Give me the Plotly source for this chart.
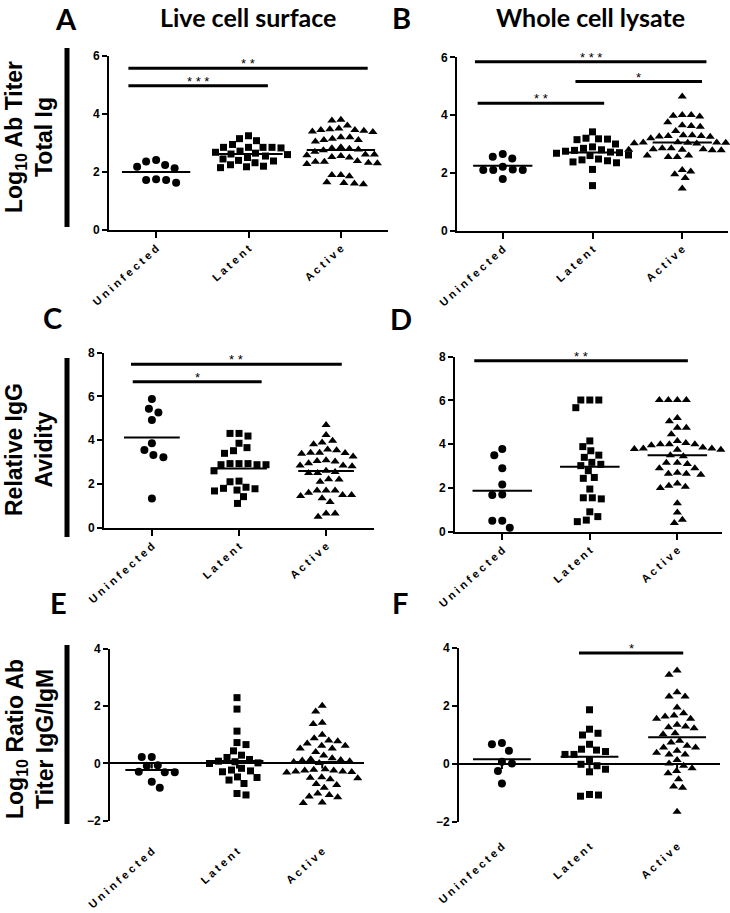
import plotly.graph_objects as go

W, H = 730, 913

categories = ["Uninfected", "Latent", "Active"]
tick_text = [" ".join(c) for c in categories]

# ---------- Panel A: live cell surface, Log10 Ab titer total Ig ----------
A_uninfected = [2.36, 2.18, 2.13, 2.24, 2.41, 1.72, 1.63, 1.72, 1.75]
A_latent = [3.25, 3.15, 3.08, 2.95, 2.85, 2.85, 2.83, 2.85, 2.85, 2.72, 2.68, 2.65,
            2.62, 2.60, 2.55, 2.50, 2.45, 2.40, 2.38, 2.32, 2.25, 2.20, 2.18, 2.15]
A_active = [3.80, 3.78, 3.60, 3.50, 3.47, 3.45, 3.45, 3.42, 3.40, 3.38, 3.20, 3.15,
            3.10, 3.05, 3.10, 3.20, 2.85, 2.80, 2.78, 2.75, 2.70, 2.82, 2.60, 2.55,
            2.58, 2.50, 2.52, 2.60, 2.30, 2.35, 2.32, 2.35, 2.38, 2.28, 1.85, 1.90,
            1.90, 1.62, 1.58, 1.60, 1.65]
A_means = [2.00, 2.62, 2.76]

# ---------- Panel B: whole cell lysate, Log10 Ab titer total Ig ----------
B_uninfected = [2.50, 2.65, 2.56, 2.12, 2.10, 2.21, 2.10, 2.10, 1.79]
B_latent = [3.42, 3.20, 3.18, 3.15, 3.17, 3.00, 2.90, 2.85, 2.80, 2.78, 2.75, 2.72,
            2.70, 2.68, 2.62, 2.60, 2.42, 2.38, 2.35, 2.45, 2.48, 2.12, 1.56]
B_active = [4.64, 4.00, 3.95, 3.75, 3.98, 4.00, 3.65, 3.60, 3.62, 3.45, 3.30, 3.25,
            3.28, 3.26, 3.28, 3.30, 3.20, 3.05, 3.04, 3.02, 3.05, 3.04, 3.06, 3.03,
            2.85, 2.82, 2.80, 2.78, 2.85, 2.80, 2.78, 2.80, 2.82, 2.60, 2.55, 2.55,
            2.60, 2.10, 1.95, 1.82, 2.05, 1.46]
B_means = [2.25, 2.71, 3.05]

# ---------- Panel C: live cell surface, relative IgG avidity ----------
C_uninfected = [5.88, 5.44, 5.27, 4.92, 3.86, 3.32, 3.22, 3.55, 1.34]
C_latent = [4.31, 4.19, 4.31, 3.86, 3.52, 3.40, 3.66, 2.93, 2.88, 2.88, 2.60, 2.88,
            2.93, 2.93, 2.10, 1.80, 1.72, 1.68, 1.78, 1.85, 2.13, 1.42, 1.11]
C_active = [4.69, 4.24, 3.89, 3.98, 3.81, 3.58, 3.43, 3.41, 3.38, 3.43, 3.54, 3.26,
            3.08, 3.03, 2.84, 2.81, 2.84, 2.95, 3.05, 2.60, 2.50, 2.50, 2.22, 2.20,
            2.10, 1.70, 1.50, 1.35, 1.70, 1.70, 1.45, 1.50, 1.60, 1.18, 0.65, 0.50,
            0.65, 2.55]
C_means = [4.12, 2.71, 2.59]

# ---------- Panel D: whole cell lysate, relative IgG avidity ----------
D_uninfected = [3.50, 3.78, 2.90, 2.16, 1.70, 1.68, 0.50, 0.50, 0.18]
D_latent = [6.02, 6.02, 6.02, 5.67, 4.15, 3.89, 3.50, 3.70, 3.40, 3.17, 3.02, 3.08,
            2.79, 2.48, 2.44, 1.95, 1.55, 1.50, 1.55, 0.91, 0.69, 0.46, 0.53]
D_active = [6.02, 6.02, 6.02, 6.02, 5.20, 4.75, 4.75, 5.05, 4.45, 4.00, 4.15, 4.05,
            4.00, 4.00, 3.95, 3.80, 3.75, 3.75, 3.78, 3.80, 3.85, 3.50, 3.45, 3.15,
            3.10, 3.15, 2.90, 2.70, 2.60, 2.65, 2.65, 2.90, 2.10, 2.00, 2.05, 2.20,
            1.30, 0.88, 0.40, 0.55]
D_means = [1.875, 2.97, 3.50]

# ---------- Panel E: live cell surface, Log10 ratio IgG/IgM ----------
E_uninfected = [0.23, 0.23, -0.08, -0.06, -0.31, -0.31, -0.29, -0.64, -0.85]
E_latent = [2.30, 1.90, 1.13, 0.73, 0.66, 0.44, 0.21, 0.08, 0.06, 0.14, 0.29, 0.02,
            0.00, -0.17, -0.23, -0.29, -0.26, -0.47, -0.49, -0.58, -0.70, -1.10, -1.05]
E_active = [2.02, 1.82, 1.42, 1.38, 1.00, 0.88, 0.78, 0.62, 0.52, 0.52, 0.62, 0.70,
            0.80, 0.40, 0.28, 0.10, 0.12, 0.15, 0.18, 0.08, 0.05, 0.02, -0.25, -0.22,
            -0.28, -0.30, -0.25, -0.20, -0.28, -0.32, -0.48, -0.52, -0.55, -0.50,
            -0.75, -0.72, -0.85, -1.05, -1.15, -1.10, -1.18, -1.38, -1.36]
E_means = [-0.23, 0.09, 0.05]

# ---------- Panel F: whole cell lysate, Log10 ratio IgG/IgM ----------
F_uninfected = [0.72, 0.68, 0.46, 0.02, 0.08, -0.24, -0.67]
F_latent = [1.87, 1.20, 1.00, 1.06, 0.68, 0.51, 0.48, 0.33, 0.33, 0.43, 0.12, -0.01,
            -0.06, -0.18, -0.27, -1.05, -1.11, -1.07]
F_active = [3.22, 3.08, 2.47, 2.33, 2.33, 1.95, 1.75, 1.64, 1.56, 1.56, 1.67, 1.35,
            1.27, 1.06, 1.03, 1.23, 1.29, 0.74, 0.80, 0.57, 0.46, 0.57, 0.63, 0.39,
            0.33, 0.33, 0.14, 0.02, -0.06, -0.15, -0.32, -0.24, -0.53, -0.78, -0.82,
            -1.65]
F_means = [0.16, 0.25, 0.92]

# significance brackets: (from, to, height, stars)
A_sig = [(-0.30, 2.29, 5.58, "* *"), (-0.30, 1.21, 4.97, "* * *")]
B_sig = [(-0.31, 2.27, 5.85, "* * *"), (0.81, 2.22, 5.16, "*"), (-0.28, 1.13, 4.41, "* *")]
C_sig = [(-0.24, 2.18, 7.47, "* *"), (-0.22, 1.26, 6.67, "*")]
D_sig = [(-0.32, 2.12, 7.82, "* *")]
E_sig = []
F_sig = [(0.88, 2.07, 3.83, "*")]

# ---------- layout geometry (pixels) ----------
panels = [
    dict(name="A", groups=[A_uninfected, A_latent, A_active], means=A_means, sig=A_sig,
         box=(109, 388, 56, 230), xr=[-0.51, 2.51], yr=[0, 6], yt=[0, 2, 4, 6], half=0.37, split=False),
    dict(name="B", groups=[B_uninfected, B_latent, B_active], means=B_means, sig=B_sig,
         box=(457, 728, 57.3, 230.7), xr=[-0.51, 2.51], yr=[0, 6], yt=[0, 2, 4, 6], half=0.33, split=False),
    dict(name="C", groups=[C_uninfected, C_latent, C_active], means=C_means, sig=C_sig,
         box=(104, 374, 352.7, 527.7), xr=[-0.55, 2.55], yr=[0, 8], yt=[0, 2, 4, 6, 8], half=0.32, split=False),
    dict(name="D", groups=[D_uninfected, D_latent, D_active], means=D_means, sig=D_sig,
         box=(455, 722, 356.7, 531.7), xr=[-0.54, 2.51], yr=[0, 8], yt=[0, 2, 4, 6, 8], half=0.34, split=False),
    dict(name="E", groups=[E_uninfected, E_latent, E_active], means=E_means, sig=E_sig,
         box=(110, 364, 649, 820.7), xr=[-0.49, 2.49], yr=[-2, 4], yt=[-2, 0, 2, 4], half=0.31, split=True, tl=19),
    dict(name="F", groups=[F_uninfected, F_latent, F_active], means=F_means, sig=F_sig,
         box=(459, 720, 648, 822), xr=[-0.49, 2.49], yr=[-2, 4], yt=[-2, 0, 2, 4], half=0.33, split=True, tl=13),
]

symbols = ["circle", "square", "triangle-up"]
sizes = [8, 7, 8]
spacing = [10, 9, 8.6]


def swarm(values, d, ppu_x, ppu_y):
    order = sorted(range(len(values)), key=lambda i: -values[i])
    placed = []
    xs = [0.0] * len(values)
    flip = True
    for i in order:
        y = values[i] * ppu_y
        chosen = 0.0
        for k in range(0, 400):
            off = k * 0.5
            cands = [0.0] if k == 0 else ([off, -off] if flip else [-off, off])
            ok = None
            for c in cands:
                if all((c - px) ** 2 + (y - py) ** 2 >= d * d for px, py in placed):
                    ok = c
                    break
            if ok is not None:
                chosen = ok
                break
        flip = not flip
        placed.append((chosen, y))
        xs[i] = chosen / ppu_x
    return xs


def px2x(p):
    return p / W


def px2y(p):
    return 1 - p / H


fig = go.Figure()
layout = dict(width=W, height=H, margin=dict(l=0, r=0, t=0, b=0, pad=0, autoexpand=False),
              template="none", plot_bgcolor="white", paper_bgcolor="white", showlegend=False,
              hovermode=False)
shapes = []
annotations = []
tickfont = dict(family="Liberation Sans, Arial", size=11, color="black", weight="bold")
ytickfont = dict(family="Liberation Sans, Arial", size=12, color="black", weight="bold")

for idx, p in enumerate(panels):
    n = idx + 1
    xa = "x" if n == 1 else f"x{n}"
    ya = "y" if n == 1 else f"y{n}"
    x0, x1, yt, yb = p["box"]
    ppu_x = (x1 - x0) / (p["xr"][1] - p["xr"][0])
    ppu_y = (yb - yt) / (p["yr"][1] - p["yr"][0])

    for g, vals in enumerate(p["groups"]):
        offs = swarm(vals, spacing[g], ppu_x, ppu_y)
        fig.add_trace(go.Scatter(
            x=[g + o for o in offs], y=vals, mode="markers", xaxis=xa, yaxis=ya,
            marker=dict(symbol=symbols[g], size=sizes[g], color="black", line=dict(width=0)),
            cliponaxis=False, hoverinfo="skip"))
    for g, m in enumerate(p["means"]):
        fig.add_trace(go.Scatter(
            x=[g - p["half"], g + p["half"]], y=[m, m], mode="lines", xaxis=xa, yaxis=ya,
            line=dict(color="black", width=2), cliponaxis=False, hoverinfo="skip"))

    xaxis = dict(domain=[px2x(x0), px2x(x1)], range=p["xr"], anchor=ya, automargin=False,
                 tickvals=[0, 1, 2], ticktext=tick_text, tickangle=-42, tickfont=tickfont,
                 showgrid=False, zeroline=False, fixedrange=True)
    yaxis = dict(domain=[px2y(yb), px2y(yt)], range=p["yr"], anchor=xa, automargin=False,
                 tickvals=p["yt"], tickfont=ytickfont, showline=True, linewidth=2,
                 linecolor="black", ticks="outside", ticklen=5, tickwidth=2,
                 tickcolor="black", showgrid=False, fixedrange=True)
    if p["split"]:
        xaxis.update(showline=False, ticks="outside", ticklen=p["tl"], tickwidth=1,
                     tickcolor="rgba(0,0,0,0)")
        yaxis.update(zeroline=True, zerolinecolor="black", zerolinewidth=2)
        for g in range(3):
            shapes.append(dict(type="line", xref=xa, yref=ya, x0=g, x1=g, y0=0,
                               y1=-5 / ppu_y, line=dict(color="black", width=2)))
    else:
        xaxis.update(showline=True, linewidth=2, linecolor="black", ticks="outside",
                     ticklen=6, tickwidth=2, tickcolor="black")
        yaxis.update(zeroline=False)
    layout["xaxis" if n == 1 else f"xaxis{n}"] = xaxis
    layout["yaxis" if n == 1 else f"yaxis{n}"] = yaxis

    for (a, b, h, stars) in p["sig"]:
        shapes.append(dict(type="line", xref=xa, yref=ya, x0=a, x1=b, y0=h, y1=h,
                           line=dict(color="black", width=3)))
        annotations.append(dict(x=(a + b) / 2, y=h, xref=xa, yref=ya, text=stars,
                                showarrow=False, xanchor="center", yanchor="bottom", yshift=-5,
                                font=dict(family="Liberation Sans, Arial", size=13, color="black")))

# panel letters
letter_font = dict(family="Lato", size=29, color="black", weight="bold")
for t, (x, y) in {"A": (66, 18), "B": (401, 17), "C": (52, 317),
                  "D": (401, 318), "E": (58, 602), "F": (400, 602)}.items():
    annotations.append(dict(x=px2x(x), y=px2y(y), xref="paper", yref="paper", text=t,
                            showarrow=False, xanchor="center", yanchor="middle", font=letter_font))

# column titles
title_font = dict(family="Lato", size=25, color="black", weight="bold")
annotations.append(dict(x=px2x(248), y=1.0, xref="paper", yref="paper",
                        text="Live cell surface", showarrow=False, font=title_font,
                        xanchor="center", yanchor="top"))
annotations.append(dict(x=px2x(590), y=1.0, xref="paper", yref="paper",
                        text="Whole cell lysate", showarrow=False, font=title_font,
                        xanchor="center", yanchor="top"))

# row titles
row_font = dict(family="Liberation Sans, Arial", size=23, color="black", weight="bold")
for text, (x, y) in [("Log<sub>10</sub> Ab Titer<br>Total Ig", (29, 137)),
                     ("Relative IgG<br>Avidity", (29, 450)),
                     ("Log<sub>10</sub> Ratio Ab<br>Titer IgG/IgM", (30, 739))]:
    annotations.append(dict(x=px2x(x), y=px2y(y), xref="paper", yref="paper", text=text,
                            textangle=-90, showarrow=False, font=row_font,
                            xanchor="center", yanchor="middle"))

# heavy vertical bars beside row titles
for (top, bot) in [(48, 227), (358, 537), (645, 824)]:
    shapes.append(dict(type="line", xref="paper", yref="paper", x0=px2x(67), x1=px2x(67),
                       y0=px2y(top), y1=px2y(bot), line=dict(color="black", width=5)))

layout["shapes"] = shapes
layout["annotations"] = annotations
fig.update_layout(**layout)
fig.write_html("out.html", config={"displayModeBar": False, "staticPlot": True},
               post_script="document.body.style.margin='0';document.body.style.padding='0';")
